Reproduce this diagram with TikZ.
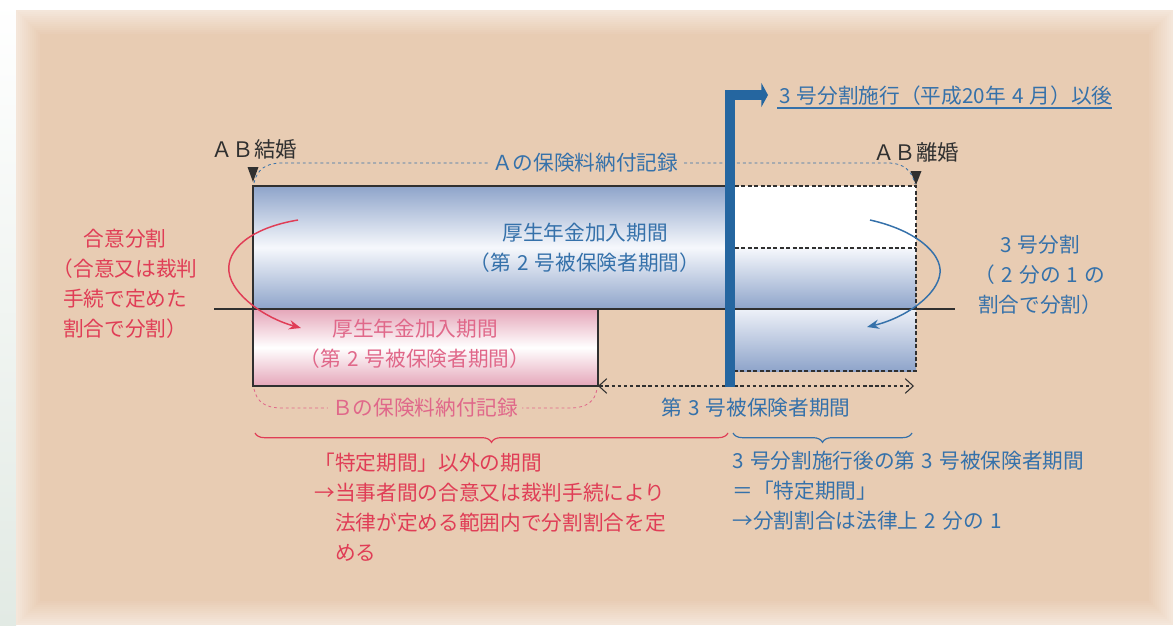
\documentclass[tikz,border=0pt]{standalone}
\usepackage{fontspec}
\newfontfamily\jpfont{Noto Sans CJK JP}
\usetikzlibrary{arrows.meta,decorations.pathreplacing}

\definecolor{bgcore}{HTML}{E8CCB3}
\definecolor{bgedge}{HTML}{F4E6DA}
\definecolor{stripgreen}{HTML}{E2EAE4}
\definecolor{nenkinblue}{HTML}{2566A0}
\definecolor{txtblue}{HTML}{3571AA}
\definecolor{barblue}{HTML}{8EA4CA}
\definecolor{barmid}{HTML}{F6F8FC}
\definecolor{barpale}{HTML}{EEF1F8}
\definecolor{barpink}{HTML}{E5A6B9}
\definecolor{txtred}{HTML}{E03D56}
\definecolor{txtpink}{HTML}{E0688A}
\definecolor{inkgray}{HTML}{303030}

\newcommand\dsp{\hspace{0.3em}}

\tikzset{
  jtext/.style={font=\jpfont\fontsize{15.5}{22.5}\selectfont, inner sep=1pt},
  marktext/.style={font=\jpfont\fontsize{16}{20}\selectfont, text=inkgray, inner sep=1pt},
  recline/.style={dash pattern=on 2.2pt off 2.2pt, line width=0.6pt},
  boxedge/.style={draw=inkgray, line width=0.9pt},
  cutedge/.style={draw=inkgray, line width=1.1pt, dash pattern=on 3pt off 1.8pt},
  openend/.style={dash pattern=on 2.6pt off 2pt, line width=0.8pt},
}

\begin{document}
\begin{tikzpicture}[x=0.75pt,y=0.75pt,yscale=-1,xscale=1]
\useasboundingbox (0,0) rectangle (1173,625);

%Background
\fill[white] (0,0) rectangle (1173,625);
\shade[top color=white,bottom color=stripgreen] (0,0) rectangle (16,625);
\foreach \i in {0,...,12}{
  \pgfmathtruncatemacro\mix{\i*100/12}
  \fill[bgcore!\mix!bgedge] (16+2*\i,10+2*\i) rectangle (1173-2*\i,625-2*\i);
}

%Shape: Rectangle (A, before the split)
\shade[top color=barblue, bottom color=barblue, middle color=barmid] (253,186) rectangle (727,309);
\draw[boxedge] (727,186) -- (253,186) -- (253,309);
%Shape: Rectangle (A, after the split)
\fill[white] (735,186) rectangle (916,248);
\shade[top color=barmid, bottom color=barblue] (735,248) rectangle (916,309);
\shade[top color=barpale, bottom color=barblue] (735,309) rectangle (916,371);
\draw[cutedge] (735,186) -- (916,186) -- (916,371) -- (735,371);
\draw[cutedge] (735,248) -- (916,248);
%Shape: Rectangle (B)
\shade[top color=barpink, bottom color=barpink, middle color=white] (253,309) rectangle (598,386);
\draw[boxedge] (253,309) -- (253,386) -- (598,386) -- (598,309);
%Straight Lines
\draw[inkgray, line width=1.1pt] (214,309) -- (955,309);

% Text Node
\draw (254,149) node [marktext] (kekkon) {ＡＢ結婚};
% Text Node
\draw (916,152) node [marktext] (rikon) {ＡＢ離婚};
%Shape: Triangle
\fill[inkgray] (247.5,167) -- (258.5,167) -- (253,182) -- cycle;
\fill[inkgray] (910.5,171) -- (921.5,171) -- (916,185) -- cycle;
\coordinate (startA) at (254,183);
\coordinate (endA) at (915,184);

%Curve Lines
\draw[txtblue, recline] (startA) .. controls (257,170) and (265,163) .. (282,163) -- (888,163) .. controls (904,163) and (912,171) .. (endA);
% Text Node
\draw (585,163) node [jtext, text=txtblue, fill=bgcore, inner xsep=3pt] (recA) {Ａの保険料納付記録};

%Curve Lines
\coordinate (startB) at (254,389);
\coordinate (endB) at (597,389);
\draw[txtpink, recline] (startB) .. controls (257,402) and (265,408) .. (282,408) -- (570,408) .. controls (587,408) and (595,401) .. (endB);
% Text Node
\draw (425,408) node [jtext, text=txtpink, fill=bgcore, inner xsep=3pt] (recB) {Ｂの保険料納付記録};

% Text Node
\draw (585,248) node [jtext, text=txtblue, align=center] (kikanA) {厚生年金加入期間\\（第\dsp 2\dsp 号被保険者期間）};
% Text Node
\draw (415,344) node [jtext, text=txtpink, align=center] (kikanB) {厚生年金加入期間\\（第\dsp 2\dsp 号被保険者期間）};

%Straight Lines
\coordinate (daisanL) at (598,386);
\coordinate (daisanR) at (914,386);
\draw[inkgray, openend, {Straight Barb[length=6pt,width=11pt]}-{Straight Barb[length=6pt,width=11pt]}] (daisanL) -- (daisanR);
% Text Node
\draw (756,408) node [jtext, text=txtblue] (daisan) {第\dsp 3\dsp 号被保険者期間};

%Thick arrow
\coordinate (shikouTop) at (730,95);
\draw[nenkinblue, line width=7.5pt, line join=miter, -{Triangle[length=5pt,width=18pt]}] (730,387) -- (shikouTop) -- (768,95);
% Text Node
\draw (779,103) node [jtext, text=txtblue, anchor=base west, inner sep=0pt] (shikou) {3\dsp 号分割施行（平成20年\dsp 4\dsp 月）以後};
\draw[txtblue, line width=0.9pt] (777,108) -- (1112,108);

%Curve Lines
\coordinate (goiFrom) at (298,220);
\coordinate (goiTo) at (301,328);
\draw[txtred, line width=1.1pt, -{Stealth[length=9pt,width=7pt]}] (goiFrom) .. controls (250,228) and (226,250) .. (229,272) .. controls (232,295) and (265,318) .. (goiTo);
%Curve Lines
\coordinate (sanFrom) at (870,220);
\coordinate (sanTo) at (867,327);
\draw[txtblue, line width=1.1pt, -{Stealth[length=9pt,width=7pt]}] (sanFrom) .. controls (915,230) and (942,253) .. (940,273) .. controls (938,295) and (905,318) .. (sanTo);

% Text Node
\draw (125,284) node [jtext, text=txtred, align=center] (goibunkatsu) {合意分割\\（合意又は裁判\\手続で定めた\\割合で分割）};
% Text Node
\draw (1040,275) node [jtext, text=txtblue, align=center] (sanbunkatsu) {3\dsp 号分割\\（\dsp 2\dsp 分の\dsp 1\dsp の\\割合で分割）};

%Braces
\draw[txtred, line width=0.9pt, decorate, decoration={brace, mirror, amplitude=7pt}] (255,433) -- (728,433);
\draw[txtblue, line width=0.9pt, decorate, decoration={brace, mirror, amplitude=7pt}] (733,433) -- (912,433);

% Text Node
\draw (313,507) node [jtext, text=txtred, anchor=west, align=left] (igai) {「特定期間」以外の期間\\→当事者間の合意又は裁判手続により\\\hspace*{1em}法律が定める範囲内で分割割合を定\\\hspace*{1em}める};
% Text Node
\draw (731,491) node [jtext, text=txtblue, anchor=west, align=left] (tokutei) {3\dsp 号分割施行後の第\dsp 3\dsp 号被保険者期間\\＝「特定期間」\\→分割割合は法律上\dsp 2\dsp 分の\dsp 1};

\end{tikzpicture}
\end{document}
